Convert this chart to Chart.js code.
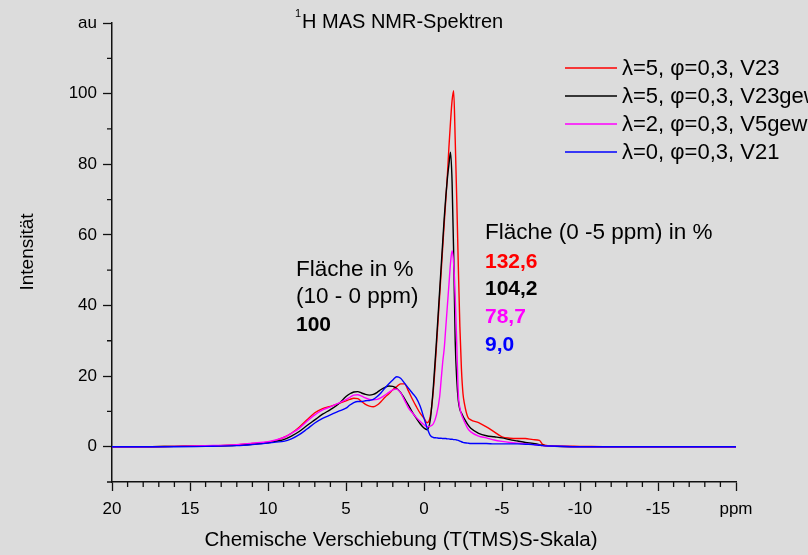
<!DOCTYPE html>
<html lang="de">
<head>
<meta charset="UTF-8">
<title>1H MAS NMR-Spektren</title>
<script src="https://cdn.jsdelivr.net/npm/chart.js"></script>
<style>
  body { margin: 0; background: #dcdcdc; }
  #wrap { width: 808px; height: 555px; position: relative; }
</style>
</head>
<body>
<div id="wrap"><canvas id="nmrChart"></canvas></div>
<script>
// chemische Verschiebung in ppm (gemeinsames Raster)
const ppm = [
  20, 18, 16, 14, 12, 11, 10,
  9.5, 9, 8.5, 8, 7.5, 7, 6.5, 6, 5.5,
  5, 4.75, 4.5, 4.25, 4, 3.75, 3.5, 3.25, 3, 2.75, 2.5, 2.25, 2, 1.75, 1.5, 1.25, 1, 0.75, 0.5, 0.25, 0,
  -0.2, -0.4, -0.6, -0.8, -1.0,
  -1.1, -1.2, -1.3, -1.4, -1.5, -1.6, -1.7, -1.8, -1.9, -2.0, -2.1, -2.2, -2.3, -2.4, -2.5, -2.6,
  -2.8, -3.0, -3.5, -4, -4.5, -5, -5.5, -6, -6.5, -7, -7.4, -7.6, -8,
  -10, -12, -14, -16, -18, -20
];

const v23 = [
  0, 0, 0.1, 0.2, 0.5, 0.9, 1.3,
  1.8, 2.6, 3.8, 5.5, 7.6, 9.6, 10.8, 11.4, 12.2,
  13.0, 13.4, 13.7, 13.6, 12.8, 12.0, 11.5, 11.3, 11.8, 12.8, 14.0, 15.0, 16.1, 17.0, 17.8, 17.8, 15.8, 13.5, 11.4, 9.5, 8.1,
  6.8, 8.5, 16, 28.5, 42.5,
  49.5, 56.5, 63.5, 70, 77, 85, 92, 98, 100.8, 87, 70, 51, 34, 22, 15, 12,
  8.5, 7.6, 6.8, 5.6, 4.2, 2.8, 2.4, 2.3, 2.3, 2.0, 1.8, 0.7, 0.3,
  0.1, 0, 0, 0, 0, 0
];

const v23gew = [
  0, 0, 0.1, 0.2, 0.4, 0.7, 1.1,
  1.5, 2.0, 3.0, 4.3, 6.0, 7.6, 9.2, 10.5, 12.0,
  14.2, 15.0, 15.5, 15.6, 15.2, 14.8, 14.6, 14.8, 15.4, 16.2, 16.8, 17.2, 17.1, 16.5, 15.4, 13.6, 11.8, 9.8, 8.1, 6.5, 5.3,
  4.8, 7.5, 17, 30, 44,
  51, 58, 65, 71, 76, 80, 83.4, 75, 55, 30, 19, 13, 10.5, 9.5, 8.6, 7.8,
  6.3, 5.2, 3.8, 3.1, 2.8, 2.5, 2.0, 1.6, 1.2, 0.9, 0.6, 0.4, 0.2,
  0, 0, 0, 0, 0, 0
];

const v5gew = [
  0, 0, 0.1, 0.3, 0.6, 1.0, 1.4,
  1.9, 2.6, 3.8, 5.2, 7.2, 9.0, 10.4, 11.3, 12.3,
  13.3, 14.0, 14.6, 14.7, 14.3, 13.8, 13.4, 13.3, 13.4, 13.9, 14.6, 15.4, 16.1, 16.3, 15.3, 13.2, 11.0, 9.6, 8.3, 7.2, 6.2,
  5.6, 5.8, 6.5, 9, 14,
  19, 24, 28, 34, 40, 46, 52, 55.5, 52, 42.5, 29, 15, 11, 9.2, 8, 7,
  5.2, 4.2, 3.0, 2.5, 1.9, 1.5, 1.2, 1.0, 0.8, 0.6, 0.4, 0.3, 0.2,
  0, 0, 0, 0, 0, 0
];

const v21 = [
  0, 0, 0, 0.1, 0.3, 0.6, 1.0,
  1.3, 1.5, 2.2, 3.4, 5.0, 6.7, 8.0, 9.0, 10.0,
  10.9, 11.8, 12.5, 12.8, 12.8, 13.0, 13.1, 13.4, 14.2, 15.3, 16.6, 17.8, 18.9, 19.8, 19.4, 18.0, 16.6, 15.2, 13.8, 11.5, 8.1,
  5.3, 3.2, 2.6, 2.5, 2.4,
  2.4, 2.3, 2.3, 2.3, 2.2, 2.2, 2.1, 2.1, 2.0, 2.0, 1.9, 1.8, 1.6, 1.4, 1.2, 1.1,
  1.0, 0.9, 0.9, 0.9, 0.8, 0.8, 0.8, 0.8, 0.7, 0.6, 0.4, 0.3, 0.2,
  0, 0, 0, 0, 0, 0
];

const seriesLabels = ['λ=5, φ=0,3, V23', 'λ=5, φ=0,3, V23gew', 'λ=2, φ=0,3, V5gew', 'λ=0, φ=0,3, V21'];
const seriesColors = ['#ff0000', '#000000', '#ff00ff', '#0000ff'];
const areaValues = ['132,6', '104,2', '78,7', '9,0'];

const FONT = '"Liberation Sans", Arial, sans-serif';

function pts(ys) {
  return ppm.map((x, i) => ({ x: x, y: ys[i] }));
}

// kleine Ticks, Titel, Legende und Beschriftungen
const extras = {
  id: 'extras',
  afterDraw(chart) {
    const ctx = chart.ctx;
    const xs = chart.scales.x, ys = chart.scales.y;
    const area = chart.chartArea;
    ctx.save();
    ctx.strokeStyle = '#111';
    ctx.lineWidth = 1.3;
    ctx.beginPath();
    for (let v = -10; v < 120; v += 20) {
      const py = ys.getPixelForValue(v);
      ctx.moveTo(area.left - 5, py);
      ctx.lineTo(area.left, py);
    }
    for (let v = -19; v < 20; v++) {
      if (v % 5 === 0) continue;
      const px = xs.getPixelForValue(v);
      ctx.moveTo(px, area.bottom);
      ctx.lineTo(px, area.bottom + 5);
    }
    ctx.stroke();

    ctx.fillStyle = '#000';
    ctx.textBaseline = 'middle';

    // Titel
    ctx.font = '20px ' + FONT;
    ctx.textAlign = 'left';
    ctx.fillText('H MAS NMR-Spektren', 302, 22);
    ctx.font = '11px ' + FONT;
    ctx.fillText('1', 295, 14);

    // Achsentitel
    ctx.font = '20.5px ' + FONT;
    ctx.textAlign = 'center';
    ctx.fillText('Chemische Verschiebung (T(TMS)S-Skala)', 401, 540);
    ctx.save();
    ctx.translate(28, 252);
    ctx.rotate(-Math.PI / 2);
    ctx.font = '19px ' + FONT;
    ctx.fillText('Intensität', 0, 0);
    ctx.restore();

    // Legende
    ctx.textAlign = 'left';
    ctx.font = '22px ' + FONT;
    ctx.lineWidth = 1.3;
    seriesLabels.forEach((lab, i) => {
      const y = 68 + i * 28;
      ctx.strokeStyle = seriesColors[i];
      ctx.beginPath();
      ctx.moveTo(565, y);
      ctx.lineTo(617, y);
      ctx.stroke();
      ctx.fillStyle = '#000';
      ctx.fillText(lab, 622, y + 1);
    });

    // Flächenangaben
    ctx.font = '22.5px ' + FONT;
    ctx.fillText('Fläche in %', 296, 270);
    ctx.fillText('(10 - 0 ppm)', 296, 297);
    ctx.font = 'bold 21px ' + FONT;
    ctx.fillText('100', 296, 325);

    ctx.font = '22.5px ' + FONT;
    ctx.fillText('Fläche (0 -5 ppm) in %', 485, 233);
    ctx.font = 'bold 21px ' + FONT;
    areaValues.forEach((t, i) => {
      ctx.fillStyle = seriesColors[i];
      ctx.fillText(t, 485, 262 + i * 27.7);
    });
    ctx.restore();
  }
};

const datasets = [v23, v23gew, v5gew, v21].map((ys, i) => ({
  label: seriesLabels[i],
  data: pts(ys),
  borderColor: seriesColors[i],
  borderWidth: 1.4,
  pointRadius: 0,
  fill: false,
  cubicInterpolationMode: 'monotone',
  order: 4 - i
}));

new Chart(document.getElementById('nmrChart'), {
  type: 'line',
  data: { datasets: datasets },
  options: {
    responsive: true,
    maintainAspectRatio: false,
    animation: false,
    layout: { padding: { top: 23, right: 72, left: 0, bottom: 0 } },
    plugins: { legend: { display: false }, tooltip: { enabled: false } },
    scales: {
      x: {
        type: 'linear',
        reverse: true,
        min: -20,
        max: 20,
        afterFit: s => { s.height = 73; },
        border: { display: true, color: '#111', width: 1.5 },
        grid: {
          drawOnChartArea: false,
          tickLength: 9,
          tickWidth: 1.3,
          tickColor: c => (c.tick && c.tick.value % 5 === 0) ? '#111' : 'rgba(0,0,0,0)'
        },
        ticks: {
          stepSize: 1,
          autoSkip: false,
          maxRotation: 0,
          padding: 8,
          color: '#000',
          font: { family: FONT, size: 17 },
          callback: v => v === -20 ? 'ppm' : (v % 5 === 0 ? String(v) : '')
        }
      },
      y: {
        min: -10,
        max: 120,
        afterFit: s => { s.width = 112; },
        border: { display: true, color: '#111', width: 1.5 },
        grid: {
          drawOnChartArea: false,
          tickLength: 9,
          tickWidth: 1.3,
          tickColor: c => (c.tick && c.tick.value % 20 === 0) ? '#111' : 'rgba(0,0,0,0)'
        },
        ticks: {
          stepSize: 10,
          padding: 6,
          color: '#000',
          font: { family: FONT, size: 17 },
          callback: v => v === 120 ? 'au' : (v % 20 === 0 ? String(v) : '')
        }
      }
    }
  },
  plugins: [extras]
});
</script>
</body>
</html>
